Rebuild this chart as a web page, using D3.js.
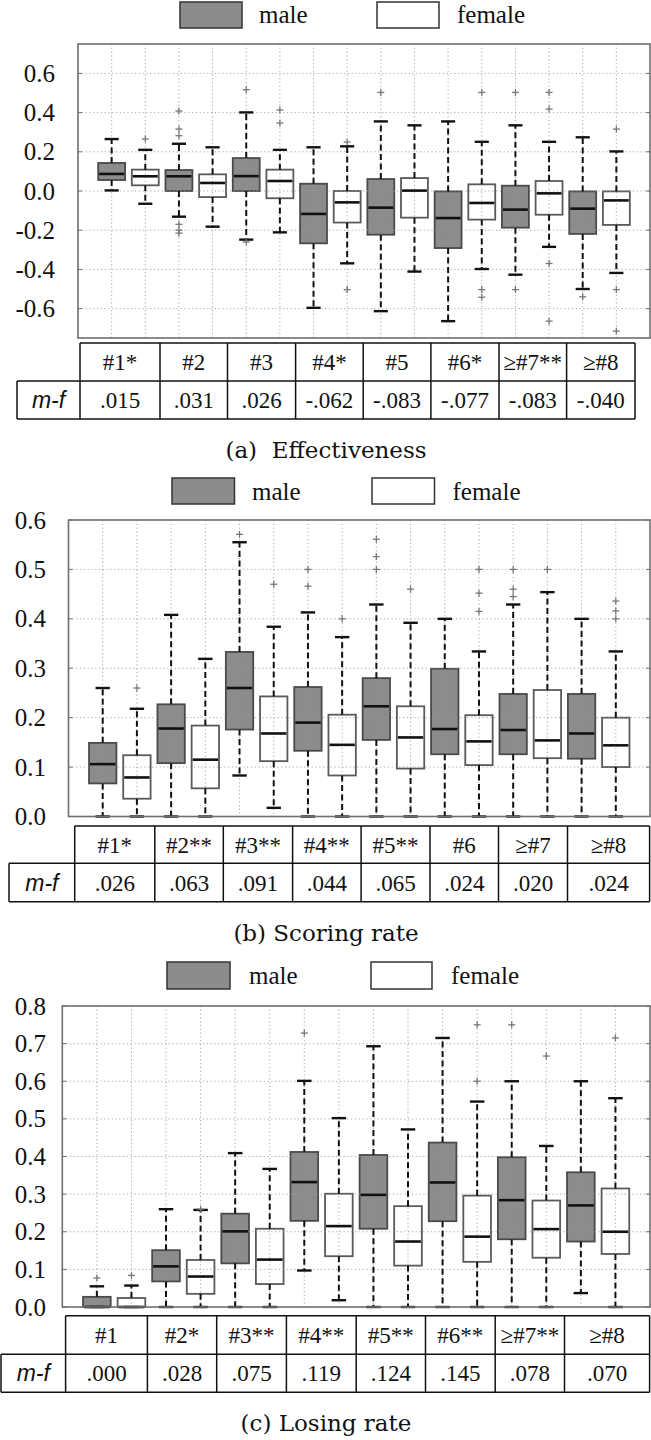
<!DOCTYPE html>
<html>
<head>
<meta charset="utf-8">
<script src="https://cdn.jsdelivr.net/npm/d3@7"></script>
<style>
  html, body { margin: 0; padding: 0; background: #fff; }
  svg { display: block; }
  .serif { font-family: "Liberation Serif", Tinos, "Times New Roman", serif; }
  .sansi { font-family: "Liberation Sans", Arimo, Arial, sans-serif; font-style: italic; }
  .cap { font-family: "DejaVu Serif", serif; white-space: pre; }
</style>
</head>
<body>
<svg id="chart" width="651" height="1440"></svg>
<script>
// ---------------- DATA ----------------
// box stats: [lowerWhisker, q1, median, q3, upperWhisker]
const seriesNames = ["male", "female"];

// (a) Effectiveness
const effCats = ["#1*", "#2", "#3", "#4*", "#5", "#6*", "≥#7**", "≥#8"];
const effDiff = [".015", ".031", ".026", "-.062", "-.083", "-.077", "-.083", "-.040"];
const effTicks = [-0.6, -0.4, -0.2, 0.0, 0.2, 0.4, 0.6];
const effMale = [
  [0.003, 0.056, 0.087, 0.143, 0.265],
  [-0.131, 0.000, 0.075, 0.107, 0.241],
  [-0.248, 0.000, 0.076, 0.168, 0.401],
  [-0.596, -0.267, -0.117, 0.037, 0.223],
  [-0.613, -0.223, -0.085, 0.061, 0.355],
  [-0.664, -0.291, -0.138, -0.002, 0.355],
  [-0.427, -0.187, -0.095, 0.027, 0.335],
  [-0.500, -0.219, -0.090, -0.002, 0.274]
];
const effFemale = [
  [-0.065, 0.029, 0.075, 0.109, 0.210],
  [-0.182, -0.031, 0.041, 0.085, 0.223],
  [-0.211, -0.037, 0.051, 0.109, 0.210],
  [-0.369, -0.161, -0.058, 0.000, 0.228],
  [-0.411, -0.136, 0.002, 0.066, 0.335],
  [-0.398, -0.146, -0.061, 0.034, 0.251],
  [-0.285, -0.121, -0.012, 0.051, 0.251],
  [-0.418, -0.173, -0.048, -0.002, 0.202]
];
const effMaleOut = [[], [0.408, 0.316, 0.282, -0.170, -0.200, -0.215], [0.517, -0.260], [], [0.503], [], [0.503, -0.503], [-0.540]];
const effFemaleOut = [[0.265], [], [0.413, 0.347], [0.250, -0.503], [], [0.503, -0.503, -0.542], [0.503, 0.418, -0.370, -0.664], [0.316, -0.503, -0.715]];

// (b) Scoring rate
const scoCats = ["#1*", "#2**", "#3**", "#4**", "#5**", "#6", "≥#7", "≥#8"];
const scoDiff = [".026", ".063", ".091", ".044", ".065", ".024", ".020", ".024"];
const scoTicks = [0.0, 0.1, 0.2, 0.3, 0.4, 0.5, 0.6];
const scoMale = [
  [0, 0.067, 0.106, 0.149, 0.260],
  [0, 0.108, 0.178, 0.227, 0.408],
  [0.083, 0.176, 0.260, 0.333, 0.555],
  [0, 0.133, 0.190, 0.262, 0.413],
  [0, 0.155, 0.223, 0.280, 0.429],
  [0, 0.126, 0.177, 0.299, 0.400],
  [0, 0.126, 0.175, 0.248, 0.429],
  [0, 0.117, 0.168, 0.248, 0.400]
];
const scoFemale = [
  [0, 0.036, 0.079, 0.124, 0.218],
  [0, 0.057, 0.115, 0.184, 0.319],
  [0.0175, 0.112, 0.168, 0.243, 0.384],
  [0, 0.083, 0.145, 0.206, 0.363],
  [0, 0.097, 0.160, 0.223, 0.392],
  [0, 0.104, 0.152, 0.205, 0.334],
  [0, 0.118, 0.154, 0.256, 0.454],
  [0, 0.100, 0.144, 0.200, 0.334]
];
const scoMaleOut = [[], [], [0.571], [0.500, 0.466], [0.561, 0.526, 0.500], [], [0.500, 0.460, 0.445], []];
const scoFemaleOut = [[0.260], [], [0.470], [0.400], [0.460], [0.500, 0.452, 0.415], [0.500], [0.436, 0.416, 0.400]];

// (c) Losing rate
const losCats = ["#1", "#2*", "#3**", "#4**", "#5**", "#6**", "≥#7**", "≥#8"];
const losDiff = [".000", ".028", ".075", ".119", ".124", ".145", ".078", ".070"];
const losTicks = [0.0, 0.1, 0.2, 0.3, 0.4, 0.5, 0.6, 0.7, 0.8];
const losMale = [
  [0, 0, 0, 0.027, 0.055],
  [0, 0.068, 0.108, 0.151, 0.260],
  [0, 0.116, 0.201, 0.248, 0.409],
  [0.097, 0.229, 0.332, 0.412, 0.601],
  [0, 0.208, 0.298, 0.404, 0.693],
  [0, 0.228, 0.331, 0.437, 0.715],
  [0, 0.180, 0.284, 0.398, 0.600],
  [0.037, 0.174, 0.270, 0.358, 0.600]
];
const losFemale = [
  [0, 0, 0, 0.024, 0.057],
  [0, 0.035, 0.081, 0.125, 0.258],
  [0, 0.061, 0.126, 0.208, 0.367],
  [0.018, 0.135, 0.215, 0.301, 0.502],
  [0, 0.110, 0.174, 0.268, 0.472],
  [0, 0.120, 0.187, 0.296, 0.546],
  [0, 0.131, 0.207, 0.283, 0.428],
  [0, 0.141, 0.200, 0.315, 0.555]
];
const losMaleOut = [[0.077], [], [], [0.728], [], [], [0.750], []];
const losFemaleOut = [[0.084], [0.260], [], [], [], [0.750, 0.600], [0.667], [0.715]];

const diffLabel = "m-f";
const captions = ["(a)  Effectiveness", "(b) Scoring rate", "(c) Losing rate"];

// ---------------- LAYOUT ----------------
const panels = [
  { cats: effCats, diff: effDiff, ticks: effTicks, male: effMale, female: effFemale, maleOut: effMaleOut, femaleOut: effFemaleOut,
    domain: [-0.75, 0.75], caption: captions[0],
    leg: { y0: 2, y1: 28, m: [180, 242], f: [377, 439], mt: 259, ft: 457, base: 23 },
    frame: { x0: 78, x1: 650, y0: 44, y1: 338 }, labelX: 55,
    table: { y0: 343, y1: 381, y2: 419, xm: 17, cols: [80, 160, 227.5, 295.6, 363.2, 430.9, 499, 566.6, 635] },
    capBase: 458 },
  { cats: scoCats, diff: scoDiff, ticks: scoTicks, male: scoMale, female: scoFemale, maleOut: scoMaleOut, femaleOut: scoFemaleOut,
    domain: [0, 0.6], caption: captions[1],
    leg: { y0: 478, y1: 504, m: [172, 234.5], f: [372, 434.5], mt: 252, ft: 452.5, base: 500 },
    frame: { x0: 68.5, x1: 650, y0: 520, y1: 816.5 }, labelX: 46,
    table: { y0: 826, y1: 863.3, y2: 901.7, xm: 9, cols: [74.7, 154.8, 223.3, 292.6, 361.1, 430, 498.5, 567.5, 649.6] },
    capBase: 941 },
  { cats: losCats, diff: losDiff, ticks: losTicks, male: losMale, female: losFemale, maleOut: losMaleOut, femaleOut: losFemaleOut,
    domain: [0, 0.8], caption: captions[2],
    leg: { y0: 962, y1: 989, m: [167, 230], f: [371, 432], mt: 249, ft: 451, base: 983.5 },
    frame: { x0: 62.3, x1: 650, y0: 1006, y1: 1307 }, labelX: 46,
    table: { y0: 1315.7, y1: 1354.3, y2: 1392.3, xm: 1, cols: [65.6, 147.4, 216.7, 286.4, 356.2, 425.5, 495.2, 564.5, 649.6] },
    capBase: 1431 }
];

const MALE_FILL = "#8c8c8c";
const svg = d3.select("#chart");

panels.forEach(p => {
  const g = svg.append("g");
  const F = p.frame;

  // legend
  const L = p.leg;
  g.append("rect").attr("x", L.m[0]).attr("y", L.y0).attr("width", L.m[1] - L.m[0]).attr("height", L.y1 - L.y0)
    .attr("fill", MALE_FILL).attr("stroke", "#333").attr("stroke-width", 1.5);
  g.append("rect").attr("x", L.f[0]).attr("y", L.y0).attr("width", L.f[1] - L.f[0]).attr("height", L.y1 - L.y0)
    .attr("fill", "#fff").attr("stroke", "#333").attr("stroke-width", 1.5);
  g.append("text").attr("class", "serif").attr("x", L.mt).attr("y", L.base).text(seriesNames[0])
    .attr("font-size", 25).attr("fill", "#111");
  g.append("text").attr("class", "serif").attr("x", L.ft).attr("y", L.base).text(seriesNames[1])
    .attr("font-size", 25).attr("fill", "#111");

  // scales
  const n = p.cats.length * 2;
  const x = d3.scaleLinear().domain([0, n + 1]).range([F.x0, F.x1]);
  const y = d3.scaleLinear().domain(p.domain).range([F.y1, F.y0]);
  const step = x(1) - x(0);
  const bw = step * 0.8;
  const capW = step * 0.21;

  const boxes = [];
  p.cats.forEach((c, i) => {
    boxes.push({ pos: 2 * i + 1, s: p.male[i], out: p.maleOut[i], fill: MALE_FILL, stroke: "#4a4a4a" });
    boxes.push({ pos: 2 * i + 2, s: p.female[i], out: p.femaleOut[i], fill: "#fff", stroke: "#5a5a5a" });
  });

  g.selectAll(".box").data(boxes).enter().append("rect")
    .attr("x", d => x(d.pos) - bw / 2)
    .attr("y", d => y(d.s[3]))
    .attr("width", bw)
    .attr("height", d => Math.max(0, y(d.s[1]) - y(d.s[3])))
    .attr("fill", d => d.fill).attr("stroke", d => d.stroke).attr("stroke-width", 1.8);

  const grid = g.append("g").attr("stroke", "#9a9a9a").attr("stroke-width", 1).attr("stroke-dasharray", "1.2,2.6").attr("opacity", 0.85);
  p.ticks.forEach(t => {
    if (y(t) > F.y0 + 1 && y(t) < F.y1 - 1)
      grid.append("line").attr("x1", F.x0).attr("x2", F.x1).attr("y1", y(t)).attr("y2", y(t));
  });
  d3.range(1, n + 1).forEach(k => {
    grid.append("line").attr("x1", x(k)).attr("x2", x(k)).attr("y1", F.y0).attr("y2", F.y1);
  });

  const wk = g.append("g").attr("stroke", "#111").attr("stroke-width", 2).attr("stroke-dasharray", "6,3.5");
  boxes.forEach(d => {
    if (y(d.s[4]) < y(d.s[3]) - 0.5)
      wk.append("line").attr("x1", x(d.pos)).attr("x2", x(d.pos)).attr("y1", y(d.s[3])).attr("y2", y(d.s[4]));
    if (y(d.s[0]) > y(d.s[1]) + 0.5)
      wk.append("line").attr("x1", x(d.pos)).attr("x2", x(d.pos)).attr("y1", y(d.s[1])).attr("y2", y(d.s[0]));
  });
  const cp = g.append("g").attr("stroke", "#111").attr("stroke-width", 2.4);
  boxes.forEach(d => {
    [d.s[0], d.s[4]].forEach(v => {
      cp.append("line").attr("x1", x(d.pos) - capW).attr("x2", x(d.pos) + capW).attr("y1", y(v)).attr("y2", y(v));
    });
  });
  g.selectAll(".med").data(boxes).enter().append("line")
    .attr("x1", d => x(d.pos) - bw / 2 + 1).attr("x2", d => x(d.pos) + bw / 2 - 1)
    .attr("y1", d => y(d.s[2])).attr("y2", d => y(d.s[2]))
    .attr("stroke", "#111").attr("stroke-width", 2.6);
  const ol = g.append("g").attr("stroke", "#777").attr("stroke-width", 1.3);
  boxes.forEach(d => {
    d.out.forEach(v => {
      const cx = x(d.pos), cy = y(v), r = 3.5;
      ol.append("line").attr("x1", cx - r).attr("x2", cx + r).attr("y1", cy).attr("y2", cy);
      ol.append("line").attr("x1", cx).attr("x2", cx).attr("y1", cy - r).attr("y2", cy + r);
    });
  });

  g.append("rect").attr("x", F.x0).attr("y", F.y0).attr("width", F.x1 - F.x0).attr("height", F.y1 - F.y0)
    .attr("fill", "none").attr("stroke", "#6e6e6e").attr("stroke-width", 1.6);
  const tk = g.append("g").attr("stroke", "#6e6e6e").attr("stroke-width", 1);
  p.ticks.forEach(t => {
    tk.append("line").attr("x1", F.x0).attr("x2", F.x0 + 4).attr("y1", y(t)).attr("y2", y(t));
    tk.append("line").attr("x1", F.x1 - 4).attr("x2", F.x1).attr("y1", y(t)).attr("y2", y(t));
  });

  g.selectAll(".yl").data(p.ticks).enter().append("text")
    .attr("class", "serif")
    .attr("x", p.labelX).attr("y", d => y(d) + 8.5)
    .attr("text-anchor", "end")
    .attr("font-size", 25).attr("fill", "#111")
    .text(d => d.toFixed(1));

  const T = p.table;
  const tb = g.append("g").attr("stroke", "#111").attr("stroke-width", 1.5).attr("fill", "none");
  const c0 = T.cols[0], cN = T.cols[T.cols.length - 1];
  tb.append("line").attr("x1", c0).attr("x2", cN).attr("y1", T.y0).attr("y2", T.y0);
  tb.append("line").attr("x1", T.xm).attr("x2", cN).attr("y1", T.y1).attr("y2", T.y1);
  tb.append("line").attr("x1", T.xm).attr("x2", cN).attr("y1", T.y2).attr("y2", T.y2);
  tb.append("line").attr("x1", T.xm).attr("x2", T.xm).attr("y1", T.y1).attr("y2", T.y2);
  T.cols.forEach(cx => {
    tb.append("line").attr("x1", cx).attr("x2", cx).attr("y1", T.y0).attr("y2", T.y2);
  });
  const m1 = (T.y0 + T.y1) / 2, m2 = (T.y1 + T.y2) / 2;
  p.cats.forEach((c, i) => {
    const cx = (T.cols[i] + T.cols[i + 1]) / 2;
    g.append("text").attr("class", "serif").attr("x", cx).attr("y", m1 + 8).attr("text-anchor", "middle")
      .attr("font-size", 23).attr("fill", "#111").text(c);
    g.append("text").attr("class", "serif").attr("x", cx).attr("y", m2 + 8).attr("text-anchor", "middle")
      .attr("font-size", 23).attr("fill", "#111").text(p.diff[i]);
  });
  g.append("text").attr("class", "sansi").attr("x", (T.xm + c0) / 2).attr("y", m2 + 8).attr("text-anchor", "middle")
    .attr("font-size", 23).attr("fill", "#111").text(diffLabel);

  g.append("text").attr("class", "cap").attr("x", 326).attr("y", p.capBase).attr("text-anchor", "middle")
    .attr("font-size", 23).attr("fill", "#111")
    .text(p.caption);
});
</script>
</body>
</html>
